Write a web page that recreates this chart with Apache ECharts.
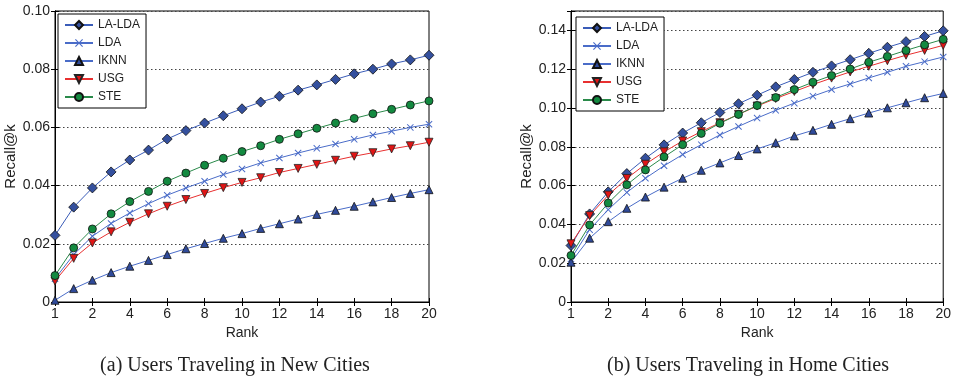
<!DOCTYPE html>
<html><head><meta charset="utf-8">
<script src="https://cdn.jsdelivr.net/npm/echarts@6/dist/echarts.min.js"></script>
<style>html,body{margin:0;padding:0;background:#fff}#c{width:954px;height:383px}</style>
</head><body><div id="c"></div>
<script>
// Rank positions (21 points, first labelled "1")
const ranks = [0,1,2,3,4,5,6,7,8,9,10,11,12,13,14,15,16,17,18,19,20];
const xTickLabels = ['1','2','4','6','8','10','12','14','16','18','20'];
const seriesNames = ['LA-LDA','LDA','IKNN','USG','STE'];
const captions = ['(a) Users Traveling in New Cities','(b) Users Traveling in Home Cities'];

// (a) New cities
const newLALDA = [0.0229,0.0326,0.0392,0.0447,0.0488,0.0522,0.0560,0.0589,0.0615,0.0640,0.0664,0.0687,0.0707,0.0728,0.0746,0.0765,0.0784,0.0800,0.0818,0.0832,0.0848];
const newLDA   = [0.0080,0.0163,0.0226,0.0270,0.0306,0.0338,0.0367,0.0392,0.0415,0.0438,0.0457,0.0478,0.0495,0.0512,0.0528,0.0543,0.0559,0.0574,0.0587,0.0600,0.0611];
const newIKNN  = [0.0006,0.0046,0.0075,0.0101,0.0123,0.0143,0.0163,0.0183,0.0201,0.0219,0.0235,0.0253,0.0269,0.0285,0.0301,0.0315,0.0329,0.0344,0.0359,0.0373,0.0386];
const newUSG   = [0.0072,0.0150,0.0203,0.0241,0.0274,0.0303,0.0329,0.0352,0.0373,0.0393,0.0411,0.0427,0.0445,0.0459,0.0473,0.0487,0.0501,0.0513,0.0526,0.0537,0.0549];
const newSTE   = [0.0091,0.0186,0.0251,0.0303,0.0345,0.0380,0.0415,0.0443,0.0470,0.0494,0.0517,0.0537,0.0559,0.0578,0.0597,0.0615,0.0631,0.0647,0.0662,0.0677,0.0691];

// (b) Home cities
const homeLALDA = [0.0291,0.0454,0.0568,0.0662,0.0741,0.0810,0.0871,0.0924,0.0977,0.1022,0.1066,0.1109,0.1147,0.1184,0.1217,0.1249,0.1282,0.1313,0.1342,0.1369,0.1398];
const homeLDA   = [0.0222,0.0373,0.0476,0.0565,0.0638,0.0702,0.0760,0.0811,0.0861,0.0905,0.0948,0.0988,0.1025,0.1061,0.1095,0.1124,0.1155,0.1184,0.1215,0.1239,0.1263];
const homeIKNN  = [0.0205,0.0329,0.0414,0.0483,0.0541,0.0592,0.0638,0.0679,0.0717,0.0755,0.0789,0.0821,0.0856,0.0885,0.0916,0.0945,0.0974,0.1001,0.1027,0.1053,0.1075];
const homeUSG   = [0.0300,0.0445,0.0551,0.0637,0.0710,0.0774,0.0830,0.0878,0.0924,0.0967,0.1010,0.1049,0.1085,0.1121,0.1154,0.1186,0.1215,0.1244,0.1272,0.1297,0.1323];
const homeSTE   = [0.0240,0.0397,0.0510,0.0604,0.0681,0.0748,0.0811,0.0869,0.0921,0.0967,0.1013,0.1054,0.1095,0.1133,0.1167,0.1201,0.1236,0.1266,0.1297,0.1326,0.1354];

const styles = {
  'LA-LDA': {line:'#3a5cb8', fill:'#34509e', edge:'#111', symbol:'diamond', size:10, rot:0},
  'LDA':    {line:'#4a6cc8', fill:'#4a6cc8', edge:'#4a6cc8', symbol:'path://M0,1L1,0L5,4L9,0L10,1L6,5L10,9L9,10L5,6L1,10L0,9L4,5Z', size:7, rot:0},
  'IKNN':   {line:'#4a6cc8', fill:'#2f4a9a', edge:'#111', symbol:'triangle', size:8, rot:0},
  'USG':    {line:'#e83030', fill:'#e01515', edge:'#222', symbol:'triangle', size:8, rot:180},
  'STE':    {line:'#2a8a4a', fill:'#138a40', edge:'#111', symbol:'circle', size:8, rot:0}
};

const font = 'Liberation Sans, Arial, sans-serif';
const txt = '#222';
const grids = [
  {left:55, right:525, top:11, bottom:81, show:true, borderColor:'#000', borderWidth:1},
  {left:571, right:10, top:11, bottom:81, show:true, borderColor:'#000', borderWidth:1}
];

function xAx(gi){
  return {type:'value', gridIndex:gi, min:0, max:20, interval:2, name:'Rank', nameLocation:'middle', nameGap:24,
    nameTextStyle:{fontFamily:font, fontSize:14, color:txt},
    axisLine:{show:true, lineStyle:{color:'#000'}}, axisTick:{inside:true, length:4, lineStyle:{color:'#000'}},
    axisLabel:{fontFamily:font, fontSize:14, color:txt, margin:5, formatter:v=>xTickLabels[Math.round(v/2)]},
    splitLine:{show:false}};
}
function xTop(gi){
  return {type:'value', gridIndex:gi, min:0, max:20, interval:2, position:'top',
    axisLine:{show:true, lineStyle:{color:'#000'}}, axisTick:{inside:true, length:4, lineStyle:{color:'#000'}},
    axisLabel:{show:false}, splitLine:{show:false}};
}
function yAx(gi, max, gap){
  return {type:'value', gridIndex:gi, min:0, max:max, interval:0.02, name:'Recall@k', nameLocation:'middle', nameGap:gap,
    nameTextStyle:{fontFamily:font, fontSize:15, color:txt},
    axisLine:{show:true, lineStyle:{color:'#000'}}, axisTick:{inside:true, length:4, lineStyle:{color:'#000'}},
    axisLabel:{fontFamily:font, fontSize:14, color:txt, margin:5, formatter:v=>{
      if (v > max - 1e-9 && Math.abs(v*50 - Math.round(v*50)) > 1e-6) return '';
      return v === 0 ? '0' : v.toFixed(2);}},
    splitLine:{show:true, lineStyle:{color:'#444', type:[1.5,2.5], width:1}}};
}
function yRight(gi, max){
  return {type:'value', gridIndex:gi, min:0, max:max, interval:0.02, position:'right',
    axisLine:{show:true, lineStyle:{color:'#000'}}, axisTick:{inside:true, length:4, lineStyle:{color:'#000'}},
    axisLabel:{show:false}, splitLine:{show:false}};
}

function mk(name, vals, xi, yi){
  const s = styles[name];
  return {name, type:'line', xAxisIndex:xi, yAxisIndex:yi,
    data: ranks.map((r,i)=>[r, vals[i]]),
    symbol:s.symbol, symbolSize:s.size, symbolRotate:s.rot, showAllSymbol:true,
    lineStyle:{color:s.line, width:1},
    itemStyle:{color:s.fill, borderColor:s.edge, borderWidth: name==='LDA'?0:0.8},
    emphasis:{disabled:true}, animation:false, z: 3};
}

function legend(left, top){
  return {orient:'vertical', left, top, itemWidth:28, itemHeight:10, itemGap:6,
    padding:[5,6,5,6], backgroundColor:'#fff', borderColor:'#000', borderWidth:1,
    textStyle:{fontFamily:font, fontSize:12, color:txt},
    data: seriesNames, selectedMode:false};
}

const chart = echarts.init(document.getElementById('c'), null, {renderer:'canvas'});
chart.setOption({
  animation:false,
  grid: grids,
  xAxis:[xAx(0), xTop(0), xAx(1), xTop(1)],
  yAxis:[yAx(0, 0.1, 34), yRight(0, 0.1), yAx(1, 0.15, 36), yRight(1, 0.15)],
  legend:[legend(58, 14), legend(576, 17)],
  series:[
    mk('LA-LDA', newLALDA, 0, 0), mk('LDA', newLDA, 0, 0), mk('IKNN', newIKNN, 0, 0), mk('USG', newUSG, 0, 0), mk('STE', newSTE, 0, 0),
    mk('LA-LDA', homeLALDA, 2, 2), mk('LDA', homeLDA, 2, 2), mk('IKNN', homeIKNN, 2, 2), mk('USG', homeUSG, 2, 2), mk('STE', homeSTE, 2, 2)
  ],
  graphic:[
    {type:'text', x:235, y:366, style:{text:captions[0], font:'20px "Liberation Serif", "Times New Roman", serif', fill:'#222', textAlign:'center', textVerticalAlign:'middle'}},
    {type:'text', x:748, y:366, style:{text:captions[1], font:'20px "Liberation Serif", "Times New Roman", serif', fill:'#222', textAlign:'center', textVerticalAlign:'middle'}}
  ]
});
</script></body></html>
